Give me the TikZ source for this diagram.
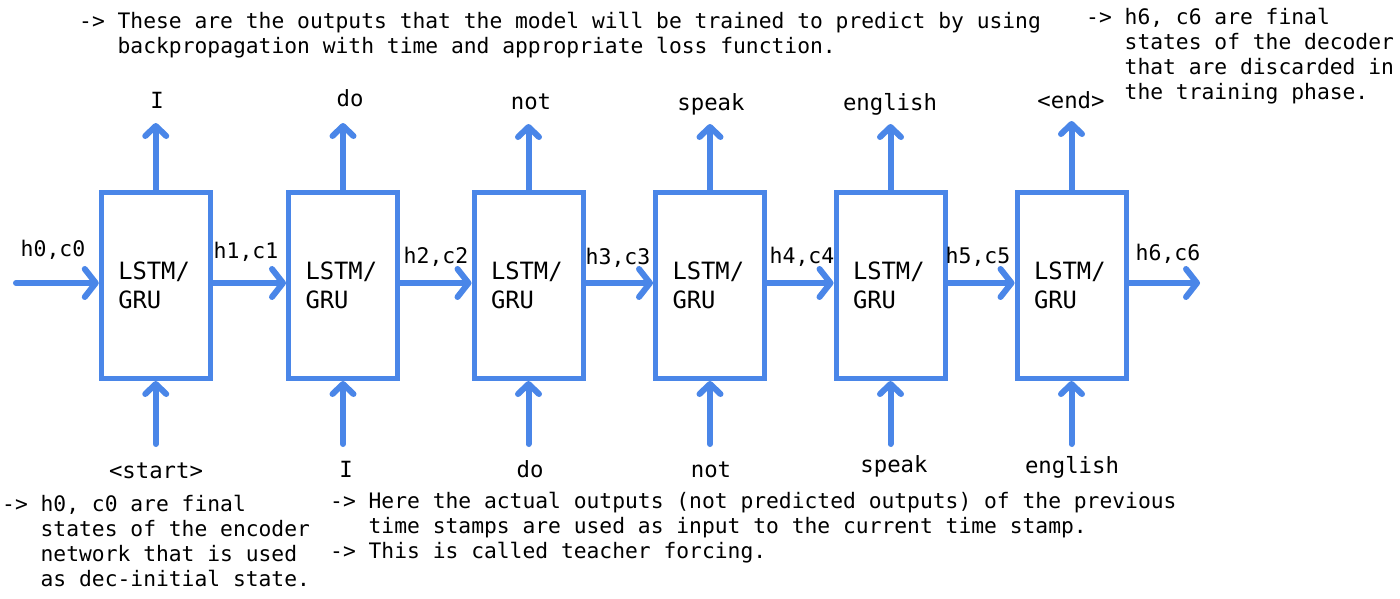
\documentclass[tikz,border=0pt]{standalone}
\usepackage{fontspec}
\newfontfamily\dmono{DejaVu Sans Mono}
\usetikzlibrary{arrows.meta}
\definecolor{gblue}{HTML}{4A86E8}
\begin{document}
\begin{tikzpicture}[x=1pt,y=-1pt,
  lstm/.style={draw=gblue, line width=5pt, minimum width=109pt, minimum height=186pt,
    inner xsep=17pt, inner ysep=0pt, text width=75pt, align=left,
    font=\dmono\fontsize{23.8}{29}\selectfont},
  harr/.style={draw=gblue, line width=6pt, line cap=round,
    -{Straight Barb[round,length=11pt,width=28pt]}},
  varr/.style={draw=gblue, line width=6pt, line cap=round,
    -{Straight Barb[round,length=10pt,width=21pt]}},
  word/.style={font=\dmono\fontsize{22.3}{26}\selectfont, anchor=base, inner sep=0pt},
  state/.style={font=\dmono\fontsize{21.5}{26}\selectfont, anchor=base, inner sep=0pt},
  note/.style={font=\dmono\fontsize{21.3}{25.3}\selectfont, anchor=base west, align=left, inner sep=0pt}
]
\fill[white] (0,0) rectangle (1400,598);
\useasboundingbox (0,0) rectangle (1400,598);

% boxes
\node[lstm] (b1) at (155.75,285.5) {LSTM/\\GRU};
\node[lstm] (b2) at (343,285.5) {LSTM/\\GRU};
\node[lstm] (b3) at (528.5,285.5) {LSTM/\\GRU};
\node[lstm] (b4) at (710,285.5) {LSTM/\\GRU};
\node[lstm] (b5) at (890.5,285.5) {LSTM/\\GRU};
\node[lstm] (b6) at (1071.5,285.5) {LSTM/\\GRU};

% output coordinates and labels
\coordinate (o1) at (155.75,123);
\coordinate (o2) at (343,123);
\coordinate (o3) at (528.5,124);
\coordinate (o4) at (710,124);
\coordinate (o5) at (890.5,124);
\coordinate (o6) at (1071.5,121);
\node[word] (t1) at (157,108) {I};
\node[word] (t2) at (350,106) {do};
\node[word] (t3) at (531,109) {not};
\node[word] (t4) at (711,110) {speak};
\node[word] (t5) at (890,110) {english};
\node[word] (t6) at (1071,108) {<end>};
\foreach \i in {1,...,6}{\draw[varr] (b\i.north) -- (o\i);}

% input coordinates and labels
\coordinate (i1) at (155.75,444);
\coordinate (i2) at (343,444);
\coordinate (i3) at (528.5,444);
\coordinate (i4) at (710,444);
\coordinate (i5) at (890.5,444);
\coordinate (i6) at (1071.5,444);
\node[word] (u1) at (156,478) {<start>};
\node[word] (u2) at (346,477) {I};
\node[word] (u3) at (530,477) {do};
\node[word] (u4) at (711,477) {not};
\node[word] (u5) at (894,472) {speak};
\node[word] (u6) at (1072,473) {english};
\foreach \i in {1,...,6}{\draw[varr] (i\i) -- (b\i.south);}

% recurrent states
\coordinate (h0) at (16,283);
\coordinate (hend) at (1200,283);
\draw[harr] (h0) -- ([yshift=2.5pt]b1.west);
\draw[harr] ([yshift=2.5pt]b1.east) -- ([yshift=2.5pt]b2.west);
\draw[harr] ([yshift=2.5pt]b2.east) -- ([yshift=2.5pt]b3.west);
\draw[harr] ([yshift=2.5pt]b3.east) -- ([yshift=2.5pt]b4.west);
\draw[harr] ([yshift=2.5pt]b4.east) -- ([yshift=2.5pt]b5.west);
\draw[harr] ([yshift=2.5pt]b5.east) -- ([yshift=2.5pt]b6.west);
\draw[harr] ([yshift=2.5pt]b6.east) -- (hend);
\node[state] (s0) at (53,256) {h0,c0};
\node[state] (s1) at (246,258) {h1,c1};
\node[state] (s2) at (436,263) {h2,c2};
\node[state] (s3) at (618,264) {h3,c3};
\node[state] (s4) at (802,263) {h4,c4};
\node[state] (s5) at (978,263) {h5,c5};
\node[state] (s6) at (1168,260) {h6,c6};

% notes (base anchor = baseline of the last line)
\node[note] (n1) at (79,53.3) {-> These are the outputs that the model will be trained to predict by using\\
\phantom{-> }backpropagation with time and appropriate loss function.};
\node[note] (n2) at (1086,99.9) {-> h6, c6 are final\\
\phantom{-> }states of the decoder\\
\phantom{-> }that are discarded in\\
\phantom{-> }the training phase.};
\node[note] (n3) at (2,586.9) {-> h0, c0 are final\\
\phantom{-> }states of the encoder\\
\phantom{-> }network that is used\\
\phantom{-> }as dec-initial state.};
\node[note] (n4) at (330,558.6) {-> Here the actual outputs (not predicted outputs) of the previous\\
\phantom{-> }time stamps are used as input to the current time stamp.\\
-> This is called teacher forcing.};
\end{tikzpicture}
\end{document}
